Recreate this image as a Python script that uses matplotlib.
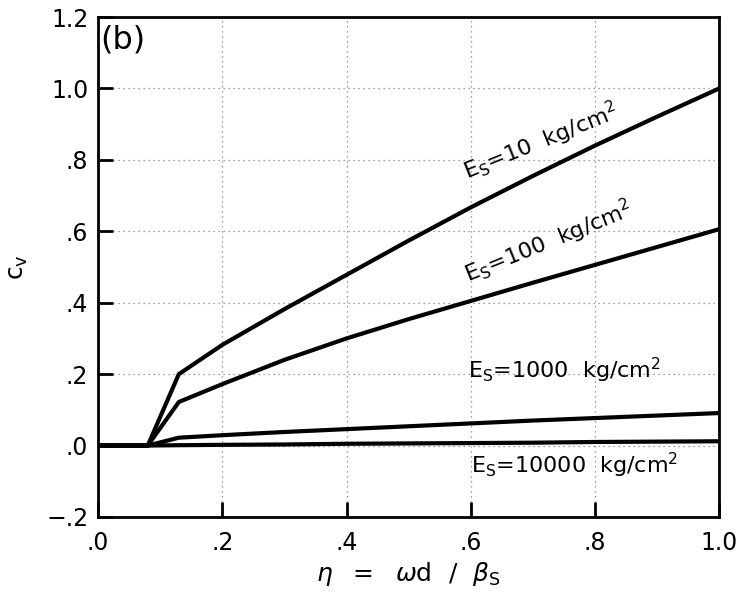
import matplotlib
matplotlib.use("Agg")
import matplotlib.pyplot as plt
import numpy as np

plt.rcParams['font.family'] = ['DejaVu Sans']
plt.rcParams['mathtext.fontset'] = 'dejavusans'

# eta = omega d / beta_s
eta = [0.0, 0.08, 0.13, 0.2, 0.3, 0.4, 0.5, 0.6, 0.7, 0.8, 0.9, 1.0]
cv_10 = [0.0, 0.0, 0.200, 0.282, 0.382, 0.478, 0.574, 0.667, 0.755, 0.840, 0.921, 1.000]
cv_100 = [0.0, 0.0, 0.122, 0.172, 0.240, 0.300, 0.354, 0.405, 0.456, 0.506, 0.556, 0.606]
cv_1000 = [0.0, 0.0, 0.022, 0.029, 0.038, 0.046, 0.054, 0.062, 0.070, 0.077, 0.084, 0.091]
cv_10000 = [0.0, 0.0, 0.001, 0.002, 0.003, 0.005, 0.006, 0.007, 0.008, 0.010, 0.011, 0.012]

xticks = [0.0, 0.2, 0.4, 0.6, 0.8, 1.0]
xticklabels = ['.0', '.2', '.4', '.6', '.8', '1.0']
yticks = [-0.2, 0.0, 0.2, 0.4, 0.6, 0.8, 1.0, 1.2]
yticklabels = ['\u2212.2', '.0', '.2', '.4', '.6', '.8', '1.0', '1.2']

fig = plt.figure(figsize=(7.43, 5.98), dpi=100)
ax = fig.add_axes([0.132, 0.1355, 0.836, 0.836])

for cv in [cv_10, cv_100, cv_1000, cv_10000]:
    ax.plot(eta, cv, color='black', lw=3, solid_joinstyle='round')

ax.set_xlim(0, 1.0)
ax.set_ylim(-0.2, 1.2)
ax.set_xticks(xticks)
ax.set_xticklabels(xticklabels)
ax.set_yticks(yticks)
ax.set_yticklabels(yticklabels)
ax.tick_params(direction='in', length=11, width=2, labelsize=17, pad=7)
ax.tick_params(axis='x', pad=10)
ax.grid(True, linestyle=(0, (1, 3)), color='gray', lw=0.9)
for sp in ax.spines.values():
    sp.set_linewidth(2)

ax.set_xlabel(r'$\eta\ \ =\ \ \omega \mathrm{d}\ \ /\ \ \beta_\mathrm{S}$', fontsize=18, labelpad=4)
ax.set_ylabel(r'$\mathrm{c_v}$', fontsize=18, labelpad=12)

ax.text(0.003, 1.179, '(b)', fontsize=23, va='top', ha='left')

ax.text(0.595, 0.745, r'E$_\mathrm{S}$=10  kg/cm$^2$', fontsize=16, rotation=22,
        rotation_mode='anchor', ha='left', va='baseline')
ax.text(0.597, 0.457, r'E$_\mathrm{S}$=100  kg/cm$^2$', fontsize=16, rotation=22,
        rotation_mode='anchor', ha='left', va='baseline')
ax.text(0.596, 0.19, r'E$_\mathrm{S}$=1000  kg/cm$^2$', fontsize=16,
        ha='left', va='baseline')
ax.text(0.6, -0.077, r'E$_\mathrm{S}$=10000  kg/cm$^2$', fontsize=16,
        ha='left', va='baseline')

fig.savefig('out.png', dpi=100)
